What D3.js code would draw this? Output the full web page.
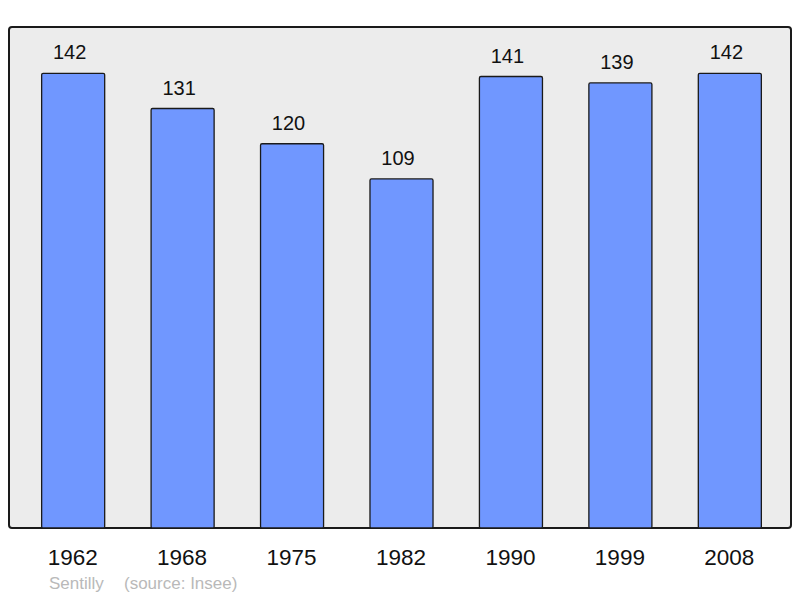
<!DOCTYPE html>
<html>
<head>
<meta charset="utf-8">
<script src="https://cdn.jsdelivr.net/npm/d3@7"></script>
<style>
  html, body { margin: 0; padding: 0; background: #fff; }
  svg { display: block; font-family: 'Liberation Sans', Arial, sans-serif; }
</style>
</head>
<body>
<svg id="chart" width="800" height="598"></svg>
<script>
const years = ['1962', '1968', '1975', '1982', '1990', '1999', '2008'];
const population = [142, 131, 120, 109, 141, 139, 142];
const placeName = 'Sentilly';
const sourceLabel = '(source: Insee)';

const width = 800;
const height = 598;

// frame of the plot area
const frame = { left: 9, top: 27, right: 791, bottom: 528 };

const svg = d3.select('#chart');

svg.append('rect')
  .attr('x', frame.left)
  .attr('y', frame.top)
  .attr('width', frame.right - frame.left)
  .attr('height', frame.bottom - frame.top)
  .attr('rx', 3)
  .attr('fill', '#ececec')
  .attr('stroke', '#1a1a1a')
  .attr('stroke-width', 2);

const x = d3.scaleBand()
  .domain(years)
  .range([11, 792])
  .paddingInner(0.424)
  .paddingOuter(0.28);

const y = d3.scaleLinear()
  .domain([0, 142])
  .range([frame.bottom, 73.3]);

const data = years.map((yr, i) => ({ year: yr, value: population[i] }));

svg.append('g')
  .selectAll('rect')
  .data(data)
  .join('rect')
  .attr('x', (d) => x(d.year))
  .attr('y', (d) => y(d.value))
  .attr('width', x.bandwidth())
  .attr('height', (d) => y(0) - y(d.value))
  .attr('rx', 1.5)
  .attr('fill', '#7097ff')
  .attr('stroke', '#1a1a1a')
  .attr('stroke-width', 1.3);

// value labels above the bars (sit a little left of the bar centre)
svg.append('g')
  .selectAll('text')
  .data(data)
  .join('text')
  .attr('x', (d) => x(d.year) + x.bandwidth() / 2 - 3.5)
  .attr('y', (d) => y(d.value) - 14)
  .attr('text-anchor', 'middle')
  .style('font-size', '20px')
  .attr('fill', '#111')
  .text((d) => d.value);

// year axis, no line or ticks
const xAxis = d3.axisBottom(x).tickSize(0).tickPadding(0);
const gx = svg.append('g')
  .attr('transform', `translate(0, ${frame.bottom})`)
  .call(xAxis);
gx.select('.domain').remove();
gx.selectAll('text')
  .attr('dy', null)
  .attr('y', 37)
  .attr('dx', -0.5)
  .style('font-size', '22.5px')
  .style('font-family', "'Liberation Sans', Arial, sans-serif")
  .attr('fill', '#111');

svg.append('text')
  .attr('x', 49)
  .attr('y', 589)
  .style('font-size', '17px')
  .attr('fill', '#b9b9b9')
  .text(placeName);

svg.append('text')
  .attr('x', 124)
  .attr('y', 589)
  .style('font-size', '17px')
  .attr('fill', '#b9b9b9')
  .text(sourceLabel);
</script>
</body>
</html>
